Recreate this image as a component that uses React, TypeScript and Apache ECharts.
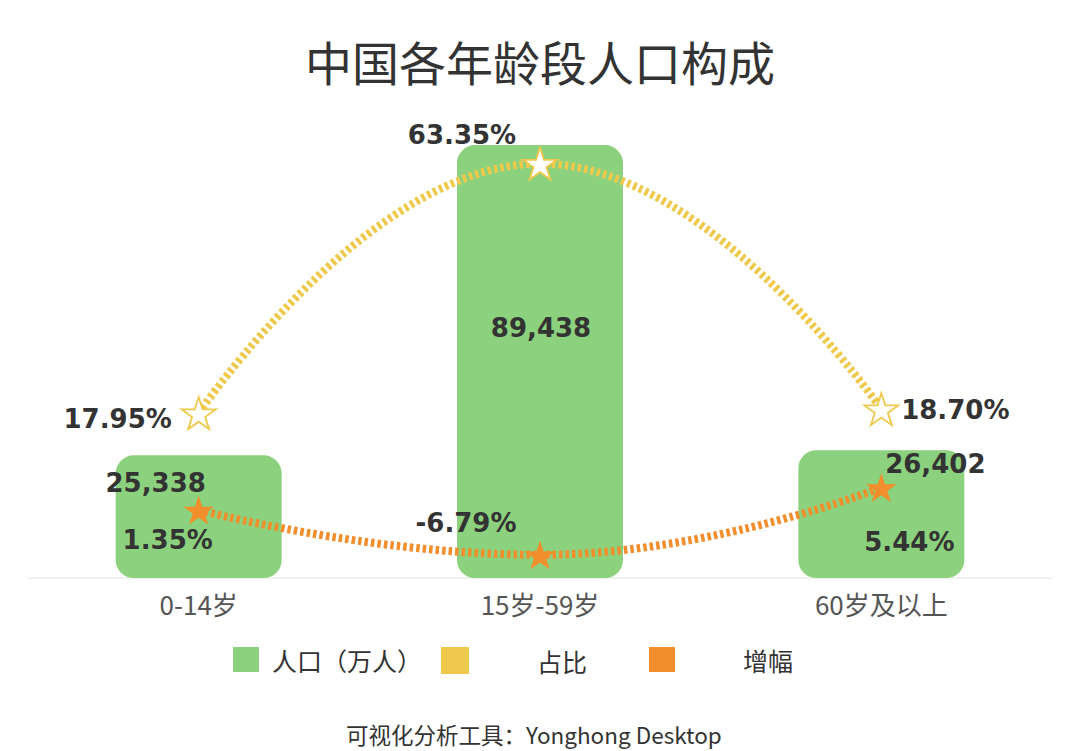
import React, { useEffect, useRef } from "react";
import * as echarts from "echarts";

const categories = ["0-14岁", "15岁-59岁", "60岁及以上"];
const population = [25338, 89438, 26402];
const share = [17.95, 63.35, 18.7];
const growth = [1.35, -6.79, 5.44];
const seriesNames = ["人口（万人）", "占比", "增幅"];

const titleText = "中国各年龄段人口构成";
const footerText = "可视化分析工具：Yonghong Desktop";

const GREEN = "#8CD17D";
const YELLOW = "#EFC94C";
const ORANGE = "#F28E2B";
const STAR =
  "path://M50,2 L61.8,38.2 L99.9,38.2 L69.1,60.6 L80.9,96.9 L50,74.5 L19.1,96.9 L30.9,60.6 L0.1,38.2 L38.2,38.2 Z";

const numFont = {
  fontFamily: "DejaVu Sans",
  fontWeight: "bold" as const,
  fontSize: 26,
  color: "#333",
};

const barOffsets = [
  [-43, -34],
  [1, -34],
  [54, -50],
];
const shareOffsets = [
  [-81, 6],
  [-78, -29],
  [74, 1],
];
const growthOffsets = [
  [-31, 30],
  [-74, -32],
  [28, 54],
];

function fmtNum(v: number) {
  return v.toLocaleString("en-US");
}
function fmtPct(v: number) {
  return v.toFixed(2) + "%";
}

export default function App() {
  const ref = useRef<HTMLDivElement>(null);
  useEffect(() => {
    const chart = echarts.init(ref.current!, null, { renderer: "svg" });
    const legendPads = [8, 64, 63];
    const legendLefts = [233, 441, 649];
    const legendColors = [GREEN, YELLOW, ORANGE];
    chart.setOption({
      animation: false,
      backgroundColor: "#fff",
      textStyle: { fontFamily: "Noto Sans CJK SC" },
      title: {
        text: titleText,
        left: "center",
        top: 32,
        textStyle: {
          fontFamily: "Noto Sans CJK SC",
          fontSize: 47,
          fontWeight: "normal",
          color: "#333",
        },
      },
      legend: seriesNames.map((n, i) => ({
        data: [{ name: n, itemStyle: { color: legendColors[i] } }],
        left: legendLefts[i],
        top: 647,
        padding: 0,
        icon: "rect",
        itemWidth: 26,
        itemHeight: 25,
        selectedMode: false,
        textStyle: {
          fontSize: 25,
          color: "#333",
          fontFamily: "Noto Sans CJK SC",
          padding: [0, 0, 0, legendPads[i]],
        },
      })),
      graphic: [
        {
          type: "text",
          left: 346,
          top: 723,
          style: {
            text: footerText,
            fontSize: 22.5,
            fill: "#333",
            fontFamily: "Noto Sans CJK SC",
          },
        },
      ],
      grid: { left: 28, right: 28, top: 94, bottom: 173 },
      xAxis: {
        type: "category",
        data: categories,
        axisLine: { lineStyle: { color: "#ebebeb", width: 1.5 } },
        axisTick: {
          alignWithLabel: true,
          length: 6,
          lineStyle: { color: "#e6e6e6" },
        },
        axisLabel: {
          fontSize: 26,
          color: "#555",
          margin: 12,
          fontFamily: "Noto Sans CJK SC",
        },
      },
      yAxis: [
        { type: "value", min: 0, max: 100000, show: false, splitLine: { show: false } },
        { type: "value", min: -12, max: 76, show: false, splitLine: { show: false } },
        { type: "value", min: -11, max: 77, show: false, splitLine: { show: false } },
      ],
      series: [
        {
          name: seriesNames[0],
          type: "bar",
          barWidth: 166,
          yAxisIndex: 0,
          z: 1,
          itemStyle: { color: GREEN, borderRadius: 18 },
          data: population.map((v, i) => ({
            value: v,
            label: {
              show: true,
              position: "inside",
              offset: barOffsets[i],
              formatter: () => fmtNum(v),
              ...numFont,
            },
          })),
        },
        {
          name: seriesNames[1],
          type: "line",
          yAxisIndex: 1,
          smooth: true,
          z: 3,
          symbol: STAR,
          symbolSize: [34, 32],
          color: YELLOW,
          lineStyle: { color: YELLOW, width: 8, type: [3.5, 3] },
          itemStyle: { color: "#fff", borderColor: YELLOW, borderWidth: 1.8 },
          data: share.map((v, i) => ({
            value: v,
            label: {
              show: true,
              position: "inside",
              offset: shareOffsets[i],
              formatter: () => fmtPct(v),
              ...numFont,
            },
          })),
        },
        {
          name: seriesNames[2],
          type: "line",
          yAxisIndex: 2,
          smooth: true,
          z: 3,
          symbol: STAR,
          symbolSize: [31, 29],
          color: ORANGE,
          lineStyle: { color: ORANGE, width: 8, type: [3.5, 3] },
          itemStyle: { color: ORANGE, borderColor: ORANGE, borderWidth: 0 },
          data: growth.map((v, i) => ({
            value: v,
            label: {
              show: true,
              position: "inside",
              offset: growthOffsets[i],
              formatter: () => fmtPct(v),
              ...numFont,
            },
          })),
        },
      ],
    });
    return () => chart.dispose();
  }, []);
  return (
    <div
      ref={ref}
      style={{ position: "absolute", left: 0, top: 0, width: 1080, height: 751 }}
    />
  );
}
